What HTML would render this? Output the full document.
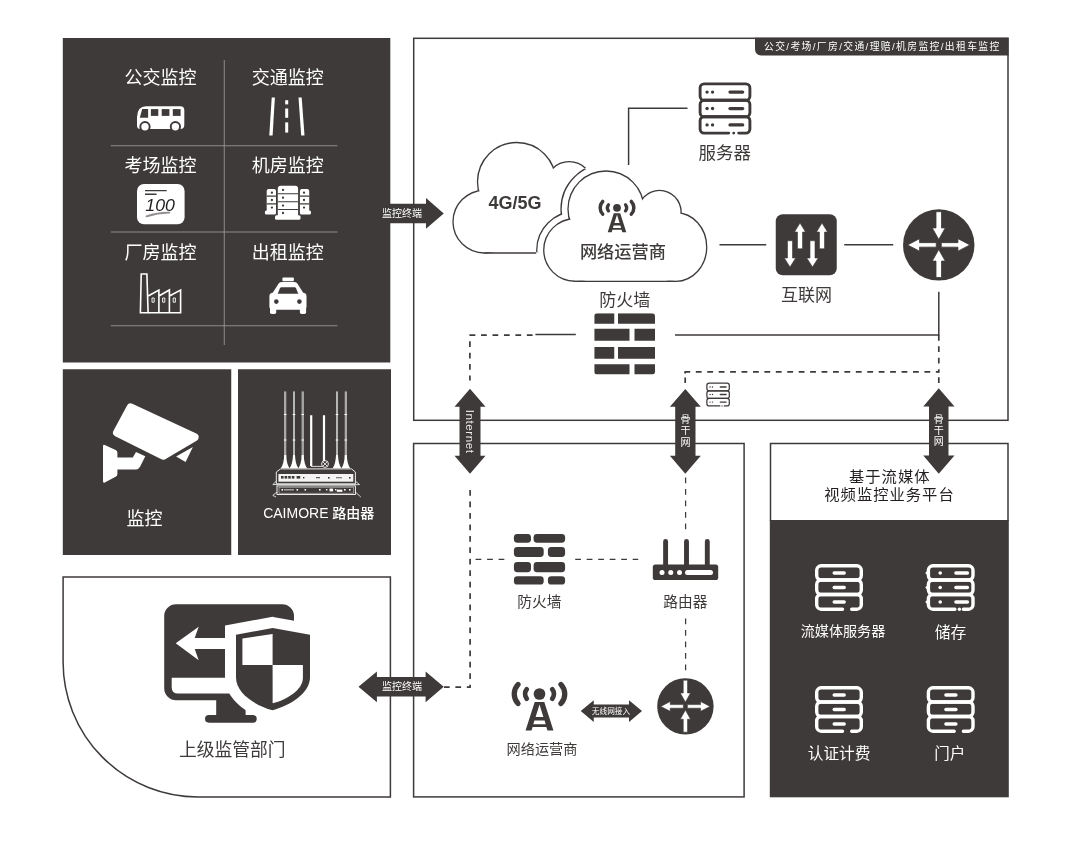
<!DOCTYPE html>
<html lang="zh-CN">
<head>
<meta charset="utf-8">
<title>视频监控组网方案</title>
<style>
html,body{margin:0;padding:0;background:#fff;}
svg{display:block;will-change:transform;}
text{font-family:"Liberation Sans","Noto Sans CJK SC",sans-serif;}
.d{fill:#3e3a39;}
.w{fill:#fff;}
.ln{fill:none;stroke:#3e3a39;stroke-width:1.5;}
.ds{fill:none;stroke:#3e3a39;stroke-width:1.7;stroke-dasharray:5.75 5.7;stroke-linejoin:round;}
.ds2{fill:none;stroke:#3e3a39;stroke-width:1.25;stroke-dasharray:5.75 5.75;}
.tw{fill:#fff;text-anchor:middle;}
.td{fill:#3e3a39;text-anchor:middle;}
</style>
</head>
<body>
<svg width="1080" height="849" viewBox="0 0 1080 849">
<rect width="1080" height="849" fill="#fff"/>

<!-- ===== PANELS ===== -->
<g id="panels">
<rect class="d" x="62.8" y="38" width="327.5" height="324.5"/>
<rect class="d" x="62.8" y="369.25" width="168.45" height="185.75"/>
<rect class="d" x="238" y="369.25" width="153" height="185.75"/>
<path class="ln" d="M63.1,576.95 H390.4 V796.9 H198 A134.9,134.9 0 0 1 63.1,662 Z"/>
<rect class="ln" x="413.7" y="38.3" width="594.3" height="382"/>
<rect class="ln" x="413.6" y="443.5" width="330.5" height="353.4"/>
<rect class="d" x="769.8" y="520" width="239" height="277.3"/>
<path class="ln" d="M770.5,521 V443.6 H1008 V521"/>
</g>

<!-- ===== TOP-LEFT GRID ===== -->
<g id="grid" stroke="#9d9a99" stroke-width="0.85" fill="none">
<path d="M224.25,60 V345"/>
<path d="M110.75,145.75 H337.5"/>
<path d="M110.75,232 H337.5"/>
<path d="M110.75,325.75 H337.5"/>
</g>
<g font-size="18" class="tw">
<text x="160.6" y="84.2">公交监控</text>
<text x="287.75" y="84.2">交通监控</text>
<text x="160.6" y="171.9">考场监控</text>
<text x="287.75" y="171.9">机房监控</text>
<text x="160.6" y="259.2">厂房监控</text>
<text x="287.75" y="259.2">出租监控</text>
</g>

<!-- ===== ICONS TOP-LEFT ===== -->
<g id="icons-tl">
<!-- bus -->
<path class="w" d="M146,106.3 H180.3 Q184.3,106.3 184.3,110.3 V124.9 Q184.3,128.9 180.3,128.9 H140.5 Q137,128.9 137,125.4 V117 Q137.5,106.3 146,106.3 Z"/>
<g class="d">
<path d="M142.2,109.1 H148.1 V117.8 H139.8 Z"/>
<rect x="150.9" y="109.1" width="7.4" height="6.8"/><rect x="161.7" y="109.1" width="7.7" height="6.8"/><rect x="172.8" y="109.1" width="7.8" height="6.8"/>
<circle cx="145" cy="126.7" r="5.6"/><circle cx="175.4" cy="126.7" r="5.6"/>
</g>
<circle class="w" cx="145" cy="126.7" r="3.7"/><circle class="w" cx="175.4" cy="126.7" r="3.7"/>
<!-- road -->
<g class="w">
<path d="M271.7,97.4 H274.9 L272.6,135.4 H269.3 Z"/>
<path d="M298.5,97.4 H301.7 L304.5,135.4 H301.2 Z"/>
<rect x="285.2" y="100.2" width="3" height="4.2"/><rect x="285.2" y="108.5" width="3" height="9.3"/><rect x="285.2" y="122.4" width="3" height="10.2"/>
</g>
<!-- 100 -->
<rect class="w" x="137" y="183.9" width="47.6" height="40.4" rx="7"/>
<path d="M145,190.6 H166.7 M145,194.3 H156.5" stroke="#3e3a39" stroke-width="1.4" fill="none"/>
<text x="145.3" y="211.4" font-size="16.5" font-style="italic" fill="#231f20" textLength="29.6" lengthAdjust="spacingAndGlyphs">100</text>
<path d="M146.5,216.3 Q158,212.4 169.4,212.6" stroke="#8f8c8b" stroke-width="1.8" fill="none" stroke-linecap="round"/>
<!-- server room -->
<g class="w">
<path d="M277.8,216.2 V188.8 Q277.8,185.8 280.8,185.8 H295.1 Q298.1,185.8 298.1,188.8 V216.2 Z"/>
<rect x="275" y="215.3" width="25.5" height="4.4" rx="1.5"/>
<path d="M266.7,212 V191.1 Q266.7,189.1 268.7,189.1 H274 Q276,189.1 276,191.1 V212 Z"/>
<rect x="264.9" y="210.6" width="11.1" height="3.9" rx="1.5"/>
<path d="M299.9,212 V191.1 Q299.9,189.1 301.9,189.1 H307.2 Q309.2,189.1 309.2,191.1 V212 Z"/>
<rect x="299.9" y="210.6" width="11.1" height="3.9" rx="1.5"/>
</g>
<path d="M277.8,193.7 H298.1 M277.8,201.7 H298.1 M277.8,209.5 H298.1 M266.7,196.1 H276 M266.7,203.9 H276 M299.9,196.1 H309.2 M299.9,203.9 H309.2" stroke="#3e3a39" stroke-width="1.1" fill="none"/>
<g class="d">
<circle cx="283" cy="189.9" r="1.15"/><circle cx="283" cy="197.7" r="1.15"/><circle cx="283" cy="205.6" r="1.15"/><circle cx="283" cy="213" r="1.15"/>
<circle cx="271.9" cy="192.7" r="1.15"/><circle cx="271.9" cy="200" r="1.15"/><circle cx="271.9" cy="207.6" r="1.15"/>
<circle cx="304" cy="192.7" r="1.15"/><circle cx="304" cy="200" r="1.15"/><circle cx="304" cy="207.6" r="1.15"/>
</g>
<!-- factory -->
<g fill="none" stroke="#fff" stroke-width="1.6" stroke-linejoin="miter">
<path d="M141.2,274 H146.9 L148.1,312.8 H140.4 Z"/>
<path d="M148.1,296 L158.9,290 V312.8 M158.9,296 L169.4,290 V312.8 M169.4,296 L180.6,290 V312.8 H148.1"/>
<path d="M152,298 H154.2 V302.2 H152 Z M162.6,298 H164.8 V302.2 H162.6 Z M173.2,298 H175.4 V302.2 H173.2 Z" stroke-width="0.9"/>
</g>
<!-- taxi -->
<g class="w">
<rect x="282.4" y="277.5" width="11.5" height="3.7" rx="1"/>
<path d="M281.5,282 H294.5 Q296.5,282 297.5,283.8 L304.6,295 H271.3 L278.5,283.8 Q279.5,282 281.5,282 Z"/>
<rect x="269.4" y="292.8" width="37.1" height="17" rx="3.5"/>
<rect x="270" y="305" width="6.2" height="9.1" rx="1.8"/><rect x="299.9" y="305" width="6.2" height="9.1" rx="1.8"/>
</g>
<g class="d">
<path d="M281.3,287.3 H294.7 Q295.5,287.3 296,288.2 L298.3,293.8 H277.7 L280,288.2 Q280.5,287.3 281.3,287.3 Z"/>
<circle cx="276.3" cy="301.6" r="2.3"/><circle cx="299.4" cy="301.6" r="2.3"/>
</g>
</g>


<!-- ===== CAMERA / ROUTER PANELS ===== -->
<text class="tw" font-size="18" x="144.5" y="524.5">监控</text>
<text class="tw" font-size="14" x="318.75" y="517.8">CAIMORE <tspan font-weight="500">路由器</tspan></text>
<!-- ===== CAMERA / CAIMORE ICONS ===== -->
<g id="icons-ml">
<path d="M130.6,407.4 L194.6,437.2 L163.2,455.7 L117,432.6 Z" fill="#fff" stroke="#fff" stroke-width="8" stroke-linejoin="round"/>
<path class="w" d="M192.9,447 L185.6,462.1 L176.1,456.5 Z"/>
<path class="w" d="M103,446.2 Q103,444.3 104.8,445.1 L115.6,449.9 Q117.4,450.7 117.4,452.7 V457.6 H132.8 L136,452 L145.3,456.3 L140.2,466.6 Q138.8,469.4 136,469.4 H117.4 V474 Q117.4,476 115.6,476.8 L104.8,482.5 Q103,483.3 103,481.3 Z"/>
<path d="M285.2,391.5 V458" stroke="#d8d7d7" stroke-width="2" fill="none"/><path d="M285.2,391.5 V458" stroke="#6d6a69" stroke-width="0.6" fill="none"/><path class="w" d="M284.2,455 Q283.9,464 280.8,468.3 H289.59999999999997 Q286.5,464 286.2,455 Z"/><path d="M283.9,414.5 H286.5 M283.9,440 H286.5" stroke="#fff" stroke-width="1"/><path d="M294,391.5 V458" stroke="#d8d7d7" stroke-width="2" fill="none"/><path d="M294,391.5 V458" stroke="#6d6a69" stroke-width="0.6" fill="none"/><path class="w" d="M293,455 Q292.7,464 289.6,468.3 H298.4 Q295.3,464 295,455 Z"/><path d="M292.7,414.5 H295.3 M292.7,440 H295.3" stroke="#fff" stroke-width="1"/><path d="M302.7,391.5 V458" stroke="#d8d7d7" stroke-width="2" fill="none"/><path d="M302.7,391.5 V458" stroke="#6d6a69" stroke-width="0.6" fill="none"/><path class="w" d="M301.7,455 Q301.4,464 298.3,468.3 H307.09999999999997 Q304.0,464 303.7,455 Z"/><path d="M301.4,414.5 H304.0 M301.4,440 H304.0" stroke="#fff" stroke-width="1"/><path d="M337,391.5 V458" stroke="#d8d7d7" stroke-width="2" fill="none"/><path d="M337,391.5 V458" stroke="#6d6a69" stroke-width="0.6" fill="none"/><path class="w" d="M336,455 Q335.7,464 332.6,468.3 H341.4 Q338.3,464 338,455 Z"/><path d="M335.7,414.5 H338.3 M335.7,440 H338.3" stroke="#fff" stroke-width="1"/><path d="M345.8,391.5 V458" stroke="#d8d7d7" stroke-width="2" fill="none"/><path d="M345.8,391.5 V458" stroke="#6d6a69" stroke-width="0.6" fill="none"/><path class="w" d="M344.8,455 Q344.5,464 341.40000000000003,468.3 H350.2 Q347.1,464 346.8,455 Z"/><path d="M344.5,414.5 H347.1 M344.5,440 H347.1" stroke="#fff" stroke-width="1"/>
<path d="M311.2,415.3 V466 M324,415.3 V461" stroke="#fff" stroke-width="2.2" fill="none"/>
<circle cx="325" cy="464" r="3.4" fill="none" stroke="#fff" stroke-width="0.9"/>
<path d="M322.8,461.8 L327.2,466.2 M327.2,461.8 L322.8,466.2" stroke="#fff" stroke-width="0.8"/>
<path d="M311,466.4 H322" stroke="#fff" stroke-width="0.8"/>
<path d="M280.5,468.9 H351.5 L355.4,472 V483.8 H276.3 V472 Z" fill="#3e3a39" stroke="#fff" stroke-width="0.9"/>
<rect x="278.4" y="474" width="74.9" height="7.7" fill="#f4f4f4"/>
<g class="d"><rect x="281" y="476" width="2.6" height="2.6"/><rect x="284.6" y="476" width="2.6" height="2.6"/><rect x="288.2" y="476" width="2.6" height="2.6"/><rect x="291.8" y="476" width="2.6" height="2.6"/><rect x="296.6" y="476" width="3.6" height="2.6"/><rect x="303" y="477" width="1.4" height="1.4"/><rect x="316" y="477.2" width="4" height="1"/><rect x="328" y="477" width="1.6" height="1.6"/><rect x="336" y="477.4" width="6" height="0.8"/><rect x="349" y="477" width="1.6" height="1.6"/></g>
<path d="M276.3,481.2 L272.8,484.6 H359.6 L355.4,481.2" fill="none" stroke="#fff" stroke-width="0.8"/>
<rect x="277" y="485.9" width="78.4" height="8.6" fill="#3e3a39" stroke="#fff" stroke-width="0.9"/>
<rect x="279" y="487.2" width="74.4" height="6" fill="none" stroke="#cfcecd" stroke-width="0.6"/>
<g class="w"><rect x="281.5" y="489" width="1.6" height="1.6"/><rect x="296.5" y="489" width="1.6" height="1.6"/><rect x="304.5" y="489" width="1.6" height="1.6"/><rect x="319" y="489" width="1.6" height="1.6"/><rect x="326" y="489" width="1.4" height="1.4"/><rect x="329.5" y="488.6" width="3.6" height="2.8"/><rect x="335" y="489" width="1.4" height="1.4"/><rect x="336.8" y="489.6" width="5.6" height="2.2"/><rect x="344" y="489" width="1.6" height="1.6"/><rect x="349" y="489" width="1.6" height="1.6"/></g>
<path d="M284,489.8 H294" stroke="#bdbbbb" stroke-width="1.2"/>
<path d="M277,492 L272.8,495.4 L276,497 M355.4,492 L360.8,497" fill="none" stroke="#fff" stroke-width="0.8"/>
</g>


<!-- ===== BOTTOM-LEFT ===== -->
<text class="td" font-size="17.8" x="232.25" y="756.3">上级监管部门</text>
<!-- ===== MONITOR + SHIELD ===== -->
<g id="icons-bl">
<path class="d" d="M176,604.2 H282.2 A11.8,11.8 0 0 1 294,616 V688.2 A12,12 0 0 1 282,700.2 H176.2 A12,12 0 0 1 164.2,688.2 V616 A11.8,11.8 0 0 1 176,604.2 Z"/>
<path class="w" d="M171.7,677.7 H290 V693.6 H178 Q171.7,693.6 171.7,687.3 Z"/>
<rect class="d" x="216.2" y="699" width="29.4" height="18"/>
<rect class="d" x="205" y="715" width="51.7" height="7.7" rx="3.85"/>
<path d="M272.6,628 L310,634.7 V677.3 C310,693.5 290,705.5 272.6,710.3 C255.2,705.5 236,693.5 236,677.3 V634.7 Z" fill="#fff" stroke="#fff" stroke-width="22" stroke-linejoin="miter"/>
<path class="d" d="M272.6,628 L310,634.7 V677.3 C310,693.5 290,705.5 272.6,710.3 C255.2,705.5 236,693.5 236,677.3 V634.7 Z"/>
<path class="w" d="M242.4,638.4 L272.6,634 V665 H242.4 Z"/>
<path class="w" d="M272.6,665 H302.9 V677.7 C302.9,690 287,699.5 272.6,703.3 Z"/>
<path class="w" d="M175.7,643.2 L198.7,626.8 L194.7,637.9 H226 V649 H194.7 L198.7,660.2 Z"/>
</g>


<!-- ===== TAG ===== -->
<path class="d" d="M755,37.8 H1008.5 V55.4 H761 A6,6 0 0 1 755,49.4 Z"/>
<text class="w" font-size="9.8" x="764" y="50" textLength="235.3" lengthAdjust="spacing">公交/考场/厂房/交通/理赔/机房监控/出租车监控</text>

<!-- ===== LINES ===== -->
<g id="lines">
<path class="ln" d="M687.5,108.25 H628.6 V165"/>
<path class="ln" d="M719.5,244.75 H766.25"/>
<path class="ln" d="M844.25,244.75 H893.25"/>
<path class="ln" d="M938.8,291.75 V334.9 H675"/>
<path class="ln" d="M575.8,334.6 H535.4"/>
<path class="ds" d="M532.6,335.2 H469.9 V380.5"/>
<path class="ds" d="M938.8,334.9 V372"/>
<path class="ds" style="stroke-dasharray:5.8 5.63" d="M684.4,371.9 H938.8"/>
<path class="ds" style="stroke-dasharray:none" d="M685.2,371.9 V373.6 M685.2,377.6 V382.9 M938.8,371.9 V372.8 M938.8,377.2 V382.9"/>
<path class="ds" d="M470.1,490.1 V687.2 H444"/>
<path class="ds2" d="M475.6,559.4 H504.5"/>
<path class="ds2" d="M575.2,559.4 H638.2"/>
<path class="ds2" d="M685.6,477.6 V529.5"/>
<path class="ds2" d="M685.6,618.6 V670.2"/>
</g>


<!-- ===== CLOUDS ===== -->
<defs>
<mask id="mk1" maskUnits="userSpaceOnUse" x="400" y="100" width="400" height="220"><rect x="400" y="100" width="400" height="220" fill="#fff"/><circle cx="575" cy="250" r="38.90" fill="#000"/><circle cx="606" cy="209" r="45.65" fill="#000"/><circle cx="659.5" cy="212" r="29.25" fill="#000"/><ellipse cx="676" cy="247" rx="38.35" ry="41.95" fill="#000"/><rect x="575" y="215" width="101" height="73.95" fill="#000"/></mask>
<clipPath id="cp1"><circle cx="484.3" cy="221.7" r="30.65"/><circle cx="516.7" cy="181.7" r="38.55"/><circle cx="569.2" cy="185.5" r="23.15"/><circle cx="565" cy="222" r="30.35"/><rect x="484.3" y="212" width="80.69999999999999" height="40.35"/></clipPath>
</defs>
<g id="clouds">
<g mask="url(#mk1)"><circle cx="484.3" cy="221.7" r="30.65" fill="none" stroke="#3e3a39" stroke-width="2.6"/><circle cx="516.7" cy="181.7" r="38.55" fill="none" stroke="#3e3a39" stroke-width="2.6"/><circle cx="569.2" cy="185.5" r="23.15" fill="none" stroke="#3e3a39" stroke-width="2.6"/><circle cx="565" cy="222" r="30.35" fill="none" stroke="#3e3a39" stroke-width="2.6"/><circle cx="484.3" cy="221.7" r="30.65" fill="#fff"/><circle cx="516.7" cy="181.7" r="38.55" fill="#fff"/><circle cx="569.2" cy="185.5" r="23.15" fill="#fff"/><circle cx="565" cy="222" r="30.35" fill="#fff"/><rect x="484.3" y="212" width="80.69999999999999" height="40.35" fill="#fff"/><path d="M484.3,253.00 H565" fill="none" stroke="#3e3a39" stroke-width="1.3"/></g>
<g clip-path="url(#cp1)"><circle cx="575" cy="250" r="37.60" fill="none" stroke="#3e3a39" stroke-width="2.6"/><circle cx="606" cy="209" r="44.35" fill="none" stroke="#3e3a39" stroke-width="2.6"/><circle cx="659.5" cy="212" r="27.95" fill="none" stroke="#3e3a39" stroke-width="2.6"/><ellipse cx="676" cy="247" rx="37.05" ry="40.65" fill="none" stroke="#3e3a39" stroke-width="2.6"/><circle cx="575" cy="250" r="37.60" fill="#fff"/><circle cx="606" cy="209" r="44.35" fill="#fff"/><circle cx="659.5" cy="212" r="27.95" fill="#fff"/><ellipse cx="676" cy="247" rx="37.05" ry="40.65" fill="#fff"/><rect x="575" y="215" width="101" height="72.65" fill="#fff"/></g>
<g><circle cx="575" cy="250" r="30.60" fill="none" stroke="#3e3a39" stroke-width="2.6"/><circle cx="606" cy="209" r="37.35" fill="none" stroke="#3e3a39" stroke-width="2.6"/><circle cx="659.5" cy="212" r="20.95" fill="none" stroke="#3e3a39" stroke-width="2.6"/><ellipse cx="676" cy="247" rx="30.05" ry="33.65" fill="none" stroke="#3e3a39" stroke-width="2.6"/><circle cx="575" cy="250" r="30.60" fill="#fff"/><circle cx="606" cy="209" r="37.35" fill="#fff"/><circle cx="659.5" cy="212" r="20.95" fill="#fff"/><ellipse cx="676" cy="247" rx="30.05" ry="33.65" fill="#fff"/><rect x="575" y="215" width="101" height="65.65" fill="#fff"/><path d="M575,281.30 H676" fill="none" stroke="#3e3a39" stroke-width="1.3"/></g>
</g>


<!-- ===== ARROWS ===== -->
<g id="arrows">
<path class="d" d="M390,203.75 H426 V198 L443.75,213.5 L426,228.75 V223.25 H390 Z"/>
<text class="tw" font-size="10" x="402" y="217.2">监控终端</text>
<path class="d" d="M358.5,686.7 L376.9,671.4 V676.9 H425.6 V671.4 L443.7,686.7 L425.6,702.2 V696.6 H376.9 V702.2 Z"/>
<text class="tw" font-size="10" x="402" y="690.2">监控终端</text>
<path class="d" d="M470,388.75 L485.5,406.75 H480.5 V455.75 H485.5 L470,473.75 L454.5,455.75 H459.5 V406.75 H454.5 Z"/>
<text fill="#fff" fill-opacity="0.9" font-size="11.6" letter-spacing="0.55" transform="translate(465.7,409.7) rotate(90)" x="0" y="0">Internet</text>
<path class="d" d="M685.3,388.9 L700.8,406.7 H695.5 V455.75 H700.8 L685.3,473.8 L669.9,455.75 H675.2 V406.7 H669.9 Z"/>
<g class="tw" font-size="10"><text x="685.5" y="422.7">骨</text><text x="685.5" y="434.2">干</text><text x="685.5" y="445.7">网</text></g>
<path class="d" d="M938.75,388.25 L954.5,406.5 H948.5 V455.5 H954.5 L938.75,473.75 L923.25,455.5 H929 V406.5 H923.25 Z"/>
<g class="tw" font-size="10"><text x="938.75" y="422.7">骨</text><text x="938.75" y="434" >干</text><text x="938.75" y="445.3">网</text></g>
<path class="d" d="M580.75,711 L593.75,700.25 V704.5 H629 V700.25 L642,711 L629,722 V717.5 H593.75 V722 Z"/>
<text class="tw" font-size="7.7" x="611" y="713.8">无线网接入</text>
</g>

<!-- ===== LABELS (right/top box) ===== -->
<g class="td" font-size="17">
<text x="724.75" y="158.7" font-size="17.5">服务器</text>
<text x="806.5" y="301.3">互联网</text>
<text x="624.75" y="305.7">防火墙</text>
</g>
<text class="td" font-size="18" font-weight="700" x="515" y="209">4G/5G</text>
<text class="td" font-size="17.2" font-weight="500" x="622.9" y="258.3">网络运营商</text>

<g class="td" font-size="14.7">
<text x="539.4" y="606.6">防火墙</text>
<text x="685.4" y="606.6">路由器</text>
<text x="542" y="753.6" font-size="14.2">网络运营商</text>
</g>

<g text-anchor="middle" fill="#231f20" font-size="15.3" letter-spacing="1">
<text x="889.75" y="481.9">基于流媒体</text>
<text x="889.5" y="500.1">视频监控业务平台</text>
</g>
<g class="tw">
<text font-size="14.1" x="843" y="635.7">流媒体服务器</text>
<text font-size="15.8" x="950.6" y="637.8">储存</text>
<text font-size="15.7" x="839.1" y="758.8">认证计费</text>
<text font-size="15.5" x="949.75" y="758.8">门户</text>
</g>

<!-- ===== ICONS RIGHT/TOP ===== -->
<g id="icons-r">
<g fill="none" stroke="#3e3a39" stroke-width="2.9" stroke-linecap="round"><rect x="700.1" y="83.9" width="49.799999999999955" height="16.40" rx="4"/><rect x="700.1" y="100.30" width="49.799999999999955" height="16.40" rx="4"/><path d="M728.74,133.1 H704.1 A4,4 0 0 1 700.1,129.1 V120.70 A4,4 0 0 1 704.1,116.70 H745.9 A4,4 0 0 1 749.9,120.70 V129.1 A4,4 0 0 1 745.9,133.1 H738.69"/><path stroke-width="3.25" d="M729.98,92.10 H742.68"/><path stroke-width="3.25" d="M729.98,108.50 H742.68"/><path stroke-width="3.25" d="M729.98,124.90 H742.68"/></g><g fill="#3e3a39"><circle cx="707.07" cy="92.10" r="1.68"/><circle cx="712.55" cy="92.10" r="1.68"/><circle cx="707.07" cy="108.50" r="1.68"/><circle cx="712.55" cy="108.50" r="1.68"/><circle cx="707.07" cy="124.90" r="1.68"/><circle cx="712.55" cy="124.90" r="1.68"/><circle cx="733.72" cy="133.1" r="1.45"/></g>
<g fill="none" stroke="#3e3a39" stroke-width="1.25" stroke-linecap="round"><rect x="706.9" y="383.2" width="22.399999999999977" height="7.57" rx="2.2"/><rect x="706.9" y="390.77" width="22.399999999999977" height="7.57" rx="2.2"/><path d="M719.78,405.9 H709.1 A2.2,2.2 0 0 1 706.9,403.7 V400.53 A2.2,2.2 0 0 1 709.1,398.33 H727.0999999999999 A2.2,2.2 0 0 1 729.3,400.53 V403.7 A2.2,2.2 0 0 1 727.0999999999999,405.9 H724.26"/><path stroke-width="1.40" d="M720.34,386.98 H726.05"/><path stroke-width="1.40" d="M720.34,394.55 H726.05"/><path stroke-width="1.40" d="M720.34,402.12 H726.05"/></g><g fill="#3e3a39"><circle cx="710.04" cy="386.98" r="0.72"/><circle cx="712.50" cy="386.98" r="0.72"/><circle cx="710.04" cy="394.55" r="0.72"/><circle cx="712.50" cy="394.55" r="0.72"/><circle cx="710.04" cy="402.12" r="0.72"/><circle cx="712.50" cy="402.12" r="0.72"/><circle cx="722.02" cy="405.9" r="0.62"/></g>
<rect class="d" x="775.75" y="214.25" width="61" height="61" rx="7"/>
<g class="w" stroke="#3e3a39" stroke-width="0.6">
<path d="M800,223 L805.5,232 H802.5 V248.75 H797.5 V232 H794.5 Z"/>
<path d="M822,223 L827.5,232 H824.5 V248.75 H819.5 V232 H816.5 Z"/>
<path d="M790,267 L795.7,258 H792.5 V240.75 H787.5 V258 H784.3 Z"/>
<path d="M812.5,267 L818.2,258 H815 V240.75 H810 V258 H806.8 Z"/>
</g>
<g transform="translate(938.75,244.9) scale(1)">
<circle class="d" r="35.7"/>
<g stroke="#3e3a39" stroke-width="0.8">
<path class="w" d="M-2.75,-33.2 H2.75 V-17 H6.5 L0,-5.4 L-6.5,-17 H-2.75 Z"/>
<path class="w" d="M-2.75,32.6 H2.75 V16.2 H6.5 L0,4.6 L-6.5,16.2 H-2.75 Z"/>
<path class="w" d="M-2.5,-2.25 V2.25 H-19.2 V6.25 L-31.2,0 L-19.2,-6.25 V-2.25 Z"/>
<path class="w" d="M2.5,-2.25 V2.25 H19.2 V6.25 L31.2,0 L19.2,-6.25 V-2.25 Z"/>
</g></g>
<g transform="translate(685.4,706.4) scale(0.79)">
<circle class="d" r="35.7"/>
<g stroke="#3e3a39" stroke-width="0.8">
<path class="w" d="M-2.75,-33.2 H2.75 V-17 H6.5 L0,-5.4 L-6.5,-17 H-2.75 Z"/>
<path class="w" d="M-2.75,32.6 H2.75 V16.2 H6.5 L0,4.6 L-6.5,16.2 H-2.75 Z"/>
<path class="w" d="M-2.5,-2.25 V2.25 H-19.2 V6.25 L-31.2,0 L-19.2,-6.25 V-2.25 Z"/>
<path class="w" d="M2.5,-2.25 V2.25 H19.2 V6.25 L31.2,0 L19.2,-6.25 V-2.25 Z"/>
</g></g>
<clipPath id="fwc"><rect x="594.25" y="313.25" width="60.75" height="61.25" rx="3"/></clipPath><g class="d" clip-path="url(#fwc)"><rect x="594.25" y="313.25" width="20.00" height="10.50"/><rect x="618" y="313.25" width="37.00" height="10.50"/><rect x="594.25" y="328.75" width="35.25" height="12.00"/><rect x="634.5" y="328.75" width="20.50" height="12.00"/><rect x="594.25" y="347" width="20.00" height="11.75"/><rect x="618" y="347" width="37.00" height="11.75"/><rect x="594.25" y="364.25" width="35.25" height="10.25"/><rect x="634.5" y="364.25" width="20.50" height="10.25"/></g>
<g class="d"><rect x="513.9" y="533.9" width="17.10" height="8.80" rx="3.4"/><rect x="533.6" y="533.9" width="31.50" height="8.80" rx="3.4"/><rect x="513.9" y="547.1" width="29.80" height="9.80" rx="3.4"/><rect x="547.9" y="547.1" width="17.20" height="9.80" rx="3.4"/><rect x="513.9" y="562" width="17.10" height="10.20" rx="3.4"/><rect x="533.6" y="562" width="31.50" height="10.20" rx="3.4"/><rect x="513.9" y="576.3" width="29.80" height="8.30" rx="3.4"/><rect x="547.9" y="576.3" width="17.20" height="8.30" rx="3.4"/></g>
<g>
<path d="M665.6,541.4 V566 M686.5,541.4 V566 M707.3,541.4 V566" stroke="#3e3a39" stroke-width="4.9" stroke-linecap="round" fill="none"/>
<rect class="d" x="652.8" y="564.6" width="65.4" height="15.5" rx="2.6"/>
<circle class="w" cx="662" cy="572.5" r="2.5"/><circle class="w" cx="670.75" cy="572.5" r="2.5"/><circle class="w" cx="679.5" cy="572.5" r="2.5"/>
<rect class="w" x="685" y="570" width="28" height="5" rx="2.5"/>
</g>
<g transform="translate(617,207.8) scale(1)" fill="#3e3a39" stroke="#3e3a39">
<circle cx="0" cy="0" r="3.9" stroke="none"/>
<path d="M-8.5,-3.1 A5,5 0 0 0 -8.5,3.1 M8.5,-3.1 A5,5 0 0 1 8.5,3.1" fill="none" stroke-width="3.2" stroke-linecap="round"/>
<path d="M-14.3,-6.35 A9.2,9.2 0 0 0 -14.3,6.35 M14.3,-6.35 A9.2,9.2 0 0 1 14.3,6.35" fill="none" stroke-width="3.5" stroke-linecap="round"/>
<path stroke="none" fill-rule="evenodd" d="M-3.2,5.4 H3.2 L9.3,24.4 H5.3 L4.6,22 H-4.6 L-5.3,24.4 H-9.3 Z M0,7 L-2.6,15.3 H2.6 Z M-3.4,17.7 L-4.1,20.2 H4.1 L3.4,17.7 Z"/>
</g>
<g transform="translate(539.5,694) scale(1.5)" fill="#3e3a39" stroke="#3e3a39">
<circle cx="0" cy="0" r="3.9" stroke="none"/>
<path d="M-8.5,-3.1 A5,5 0 0 0 -8.5,3.1 M8.5,-3.1 A5,5 0 0 1 8.5,3.1" fill="none" stroke-width="3.2" stroke-linecap="round"/>
<path d="M-14.3,-6.35 A9.2,9.2 0 0 0 -14.3,6.35 M14.3,-6.35 A9.2,9.2 0 0 1 14.3,6.35" fill="none" stroke-width="3.5" stroke-linecap="round"/>
<path stroke="none" fill-rule="evenodd" d="M-3.2,5.4 H3.2 L9.3,24.4 H5.3 L4.6,22 H-4.6 L-5.3,24.4 H-9.3 Z M0,7 L-2.6,15.3 H2.6 Z M-3.4,17.7 L-4.1,20.2 H4.1 L3.4,17.7 Z"/>
</g>
<g fill="none" stroke="#fff" stroke-width="3.4" stroke-linecap="round"><rect x="816.7" y="565.8" width="44.6" height="14.20" rx="4.5"/><rect x="816.7" y="580.0" width="44.6" height="14.50" rx="4.5"/><path d="M842.50,609.20 H821.2 A4.5,4.5 0 0 1 816.7,604.70 V599.00 A4.5,4.5 0 0 1 821.2,594.50 H856.80 A4.5,4.5 0 0 1 861.30,599.00 V604.70 A4.5,4.5 0 0 1 856.80,609.20 H851.70"/><path d="M834.20,573.00 H844.20"/><path d="M834.20,587.50 H844.20"/><path d="M834.20,602.00 H844.20"/></g>
<g fill="none" stroke="#fff" stroke-width="3.4" stroke-linecap="round"><rect x="928.4" y="565.8" width="44.6" height="14.20" rx="4.5"/><rect x="928.4" y="580.0" width="44.6" height="14.50" rx="4.5"/><path d="M954.90,609.20 H932.9 A4.5,4.5 0 0 1 928.4,604.70 V599.00 A4.5,4.5 0 0 1 932.9,594.50 H968.50 A4.5,4.5 0 0 1 973.00,599.00 V604.70 A4.5,4.5 0 0 1 968.50,609.20 H963.40"/><path d="M955.90,573.00 H967.40"/><path d="M955.90,587.50 H967.40"/><path d="M955.90,602.00 H967.40"/></g><g fill="#fff"><circle cx="940.20" cy="573.00" r="1.8"/><path d="M927.20,571.00 L925.20,573.00 L927.20,575.00 Z"/><circle cx="940.20" cy="587.50" r="1.8"/><path d="M927.20,585.50 L925.20,587.50 L927.20,589.50 Z"/><circle cx="940.20" cy="602.00" r="1.8"/><path d="M927.20,600.00 L925.20,602.00 L927.20,604.00 Z"/><circle cx="959.40" cy="609.20" r="1.7"/></g>
<g fill="none" stroke="#fff" stroke-width="3.4" stroke-linecap="round"><rect x="816.7" y="687.8" width="44.6" height="14.20" rx="4.5"/><rect x="816.7" y="702.0" width="44.6" height="14.50" rx="4.5"/><path d="M842.50,731.20 H821.2 A4.5,4.5 0 0 1 816.7,726.70 V721.00 A4.5,4.5 0 0 1 821.2,716.50 H856.80 A4.5,4.5 0 0 1 861.30,721.00 V726.70 A4.5,4.5 0 0 1 856.80,731.20 H851.70"/><path d="M834.20,695.00 H844.20"/><path d="M834.20,709.50 H844.20"/><path d="M834.20,724.00 H844.20"/></g>
<g fill="none" stroke="#fff" stroke-width="3.4" stroke-linecap="round"><rect x="928.4" y="687.8" width="44.6" height="14.20" rx="4.5"/><rect x="928.4" y="702.0" width="44.6" height="14.50" rx="4.5"/><path d="M954.20,731.20 H932.9 A4.5,4.5 0 0 1 928.4,726.70 V721.00 A4.5,4.5 0 0 1 932.9,716.50 H968.50 A4.5,4.5 0 0 1 973.00,721.00 V726.70 A4.5,4.5 0 0 1 968.50,731.20 H963.40"/><path d="M945.90,695.00 H955.90"/><path d="M945.90,709.50 H955.90"/><path d="M945.90,724.00 H955.90"/></g>
</g>

</svg>
</body>
</html>
